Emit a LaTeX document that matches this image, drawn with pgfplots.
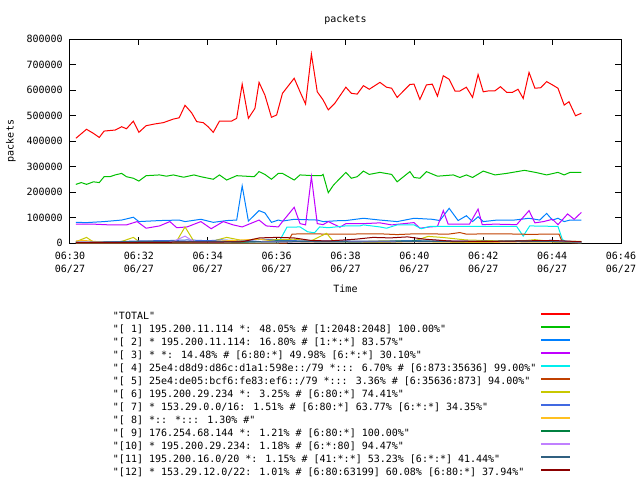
\documentclass[border=0pt]{standalone}
\usepackage{fontspec}
\setmainfont{DejaVu Sans Mono}[Ligatures=TeXOff]
\usepackage{pgfplots}
\pgfplotsset{compat=1.18}
\definecolor{gpred}{HTML}{FF0000}
\definecolor{gpgreen}{HTML}{00C000}
\definecolor{gpblue}{HTML}{0080FF}
\definecolor{gpmagenta}{HTML}{C000FF}
\definecolor{gpcyan}{HTML}{00EEEE}
\definecolor{gpbrown}{HTML}{C04000}
\definecolor{gpolive}{HTML}{C8C800}
\definecolor{gproyal}{HTML}{4169E1}
\definecolor{gpgold}{HTML}{FFC020}
\definecolor{gpdkgreen}{HTML}{008040}
\definecolor{gplav}{HTML}{C080FF}
\definecolor{gpslate}{HTML}{306080}
\definecolor{gpdkred}{HTML}{8B0000}
\begin{document}
\fontsize{7.5}{9.75}\selectfont
\begin{tikzpicture}
\path[use as bounding box] (0,0) rectangle (480pt,360pt);
\begin{axis}[
    at={(52.5pt,177.75pt)}, anchor=south west,
    width=413.25pt, height=153pt, scale only axis,
    xmin=0, xmax=16, ymin=0, ymax=800000,
    xtick={0,2,...,16},
    xticklabels={{06:30\\06/27},{06:32\\06/27},{06:34\\06/27},{06:36\\06/27},{06:38\\06/27},{06:40\\06/27},{06:42\\06/27},{06:44\\06/27},{06:46\\06/27}},
    xticklabel style={align=center, inner sep=0pt, yshift=-6.5pt},
    ytick={0,100000,...,800000},
    scaled y ticks=false,
    yticklabel style={inner sep=0pt, xshift=-5.25pt, /pgf/number format/.cd, fixed, 1000 sep={}},
    /pgf/number format/assume math mode=true,
    tick align=inside, major tick length=4.5pt,
    tick style={black, line width=0.75pt},
    axis line style={line width=0.75pt},
    title={packets},
    title style={at={(axis description cs:0.5,1.054)}, anchor=center},
    xlabel={Time},
    xlabel style={at={(axis description cs:0.5,-0.2255)}, anchor=center},
    ylabel={packets},
    ylabel style={at={(axis description cs:-0.1071,0.5)}, anchor=center},
    every axis plot/.append style={line width=0.75pt, no markers},
    legend cell align=left,
    legend plot pos=right,
    legend image code/.code={\draw[#1, line width=1.4pt] (0pt,2.5pt) -- (21.75pt,2.5pt);},
    legend style={at={(axis description cs:0.078,-0.3382)}, anchor=north west,
        draw=none, fill=none, inner sep=0pt, outer sep=0pt,
        row sep=2.25pt, column sep=3pt,
        nodes={inner sep=0pt, text height=6pt, text depth=1.5pt}},
]
\addplot[gpred] coordinates {
(0.17,410600) (0.48,446000) (0.68,430000) (0.85,414000) (0.99,439000) (1.31,443000) (1.50,456000) (1.64,448000) (1.84,478000) (2.00,434000) (2.21,460000) (2.47,467000) (2.71,472000) (3.00,486000) (3.17,491000) (3.34,540000) (3.53,511000) (3.68,476000) (3.87,472000) (4.01,456000) (4.16,434000) (4.34,478000) (4.69,478000) (4.84,489000) (5.00,623000) (5.18,489000) (5.37,528000) (5.49,630000) (5.66,580000) (5.85,493000) (6.00,502000) (6.17,587000) (6.51,646000) (6.68,593000) (6.84,545000) (7.01,741000) (7.18,593000) (7.35,561000) (7.50,522000) (7.69,548000) (8.01,611000) (8.17,587000) (8.34,584000) (8.52,617000) (8.69,603000) (9.00,630000) (9.19,611000) (9.34,607000) (9.50,571000) (9.87,622000) (9.99,623000) (10.16,563000) (10.35,620000) (10.52,623000) (10.67,576000) (10.84,656000) (11.01,642000) (11.18,596000) (11.32,596000) (11.51,611000) (11.69,571000) (11.85,661000) (12.00,593000) (12.17,597000) (12.34,597000) (12.50,613000) (12.68,591000) (12.85,591000) (13.01,603000) (13.16,567000) (13.33,669000) (13.50,607000) (13.67,609000) (13.84,633000) (14.01,620000) (14.17,607000) (14.35,541000) (14.49,554000) (14.68,499000) (14.85,509000)
};
\addlegendentry{"TOTAL"}
\addplot[gpgreen] coordinates {
(0.17,230000) (0.33,237000) (0.48,230000) (0.68,240000) (0.85,237000) (0.99,260000) (1.16,260000) (1.31,267000) (1.50,273000) (1.64,260000) (1.84,254000) (2.00,243000) (2.21,264000) (2.60,267000) (2.80,262000) (3.00,267000) (3.30,258000) (3.60,267000) (3.80,260000) (4.16,250000) (4.34,267000) (4.55,247000) (4.84,264000) (5.10,262000) (5.35,260000) (5.49,280000) (5.66,269000) (5.85,250000) (6.05,273000) (6.17,273000) (6.51,247000) (6.68,267000) (7.07,264000) (7.30,264000) (7.35,269000) (7.50,197000) (7.65,227000) (8.01,277000) (8.17,254000) (8.34,260000) (8.52,282000) (8.69,269000) (9.00,277000) (9.34,269000) (9.50,240000) (9.87,280000) (9.99,257000) (10.16,254000) (10.35,280000) (10.67,262000) (11.13,267000) (11.32,257000) (11.51,267000) (11.69,257000) (12.00,282000) (12.34,267000) (12.68,273000) (13.20,285000) (13.55,276000) (13.84,267000) (14.17,277000) (14.35,267000) (14.52,277000) (14.85,277000)
};
\addlegendentry{"[ 1] 195.200.11.114 *: 48.05\% \# [1:2048:2048] 100.00\%"}
\addplot[gpblue] coordinates {
(0.17,81000) (0.48,80000) (0.99,84000) (1.50,90000) (1.84,101000) (2.00,84000) (2.60,88000) (3.17,90000) (3.34,84000) (3.80,93000) (4.16,81000) (4.55,88000) (4.84,90000) (5.00,224000) (5.18,86000) (5.49,127000) (5.66,118000) (5.85,81000) (6.05,90000) (6.17,86000) (6.51,93000) (7.18,90000) (7.35,84000) (7.85,88000) (8.01,88000) (8.52,97000) (9.00,90000) (9.50,84000) (9.99,97000) (10.52,93000) (10.74,88000) (11.01,136000) (11.27,88000) (11.51,107000) (11.69,84000) (11.85,103000) (12.00,84000) (12.40,90000) (12.90,90000) (13.33,97000) (13.64,90000) (13.84,116000) (14.01,90000) (14.17,97000) (14.35,84000) (14.52,90000) (14.85,90000)
};
\addlegendentry{"[ 2] * 195.200.11.114: 16.80\% \# [1:*:*] 83.57\%"}
\addplot[gpmagenta] coordinates {
(0.17,74000) (0.68,74000) (1.16,71000) (1.64,71000) (1.95,84000) (2.21,58000) (2.60,67000) (2.90,84000) (3.10,60000) (3.40,63000) (3.80,84000) (4.10,56000) (4.45,84000) (4.74,71000) (5.00,63000) (5.49,90000) (5.70,67000) (6.05,63000) (6.17,84000) (6.51,140000) (6.68,76000) (6.84,71000) (7.01,260000) (7.18,76000) (7.35,72000) (7.50,84000) (7.84,62000) (8.01,76000) (8.52,76000) (9.00,79000) (9.34,71000) (9.99,80000) (10.16,58000) (10.45,63000) (10.67,65000) (10.84,127000) (10.98,74000) (11.60,74000) (11.85,133000) (11.97,72000) (12.34,74000) (12.97,72000) (13.33,127000) (13.50,79000) (13.75,84000) (14.01,93000) (14.17,72000) (14.45,114000) (14.64,93000) (14.85,120000)
};
\addlegendentry{"[ 3] * *: 14.48\% \# [6:80:*] 49.98\% [6:*:*] 30.10\%"}
\addplot[gpcyan] coordinates {
(0.17,0) (6.05,0) (6.30,62000) (6.68,63000) (6.90,44000) (7.10,40000) (7.25,63000) (7.50,60000) (8.00,67000) (8.42,67000) (8.52,71000) (9.00,63000) (9.19,58000) (9.50,71000) (9.99,71000) (10.20,56000) (10.45,65000) (12.97,65000) (13.16,27000) (13.35,67000) (14.17,65000) (14.30,13000) (14.45,4000) (14.85,0)
};
\addlegendentry{"[ 4] 25e4:d8d9:d86c:d1a1:598e::/79 *::: 6.70\% \# [6:873:35636] 99.00\%"}
\addplot[gpbrown] coordinates {
(0.17,0) (6.30,0) (6.45,35000) (6.84,36000) (7.50,35000) (8.00,35000) (9.00,36000) (9.50,33000) (10.00,36000) (11.00,35000) (11.32,41000) (11.50,35000) (12.50,36000) (13.00,35000) (13.30,34000) (14.20,35000) (14.30,2000) (14.85,0)
};
\addlegendentry{"[ 5] 25e4:de05:bcf6:fe83:ef6::/79 *::: 3.36\% \# [6:35636:873] 94.00\%"}
\addplot[gpolive] coordinates {
(0.17,5000) (0.48,22000) (0.68,4000) (1.50,6000) (1.84,22000) (2.00,6000) (2.60,8000) (3.10,8000) (3.34,63000) (3.60,6000) (4.10,6000) (4.55,22000) (5.00,10000) (5.40,15000) (6.00,13000) (6.50,15000) (7.00,8000) (7.45,38000) (7.65,6000) (8.40,6000) (9.00,8000) (10.00,8000) (10.40,26000) (10.80,22000) (11.50,12000) (12.50,8000) (13.00,7000) (13.50,13000) (14.00,6000) (14.85,6000)
};
\addlegendentry{"[ 6] 195.200.29.234 *: 3.25\% \# [6:80:*] 74.41\%"}
\addplot[gproyal] coordinates {
(0.17,3000) (1,4000) (2,8000) (3,10000) (3.4,12000) (4,9000) (4.4,12000) (5,8000) (5.6,15000) (6,10000) (7,8000) (8,8000) (9,7000) (10,10000) (10.5,12000) (11,8000) (12,6000) (13,8000) (14,10000) (14.85,4000)
};
\addlegendentry{"[ 7] * 153.29.0.0/16: 1.51\% \# [6:80:*] 63.77\% [6:*:*] 34.35\%"}
\addplot[gpgold] coordinates {
(0.17,8000) (0.4,10000) (1,3000) (2,2000) (3,4000) (4,5000) (5,12000) (5.5,15000) (6,6000) (7,3000) (8,4000) (9,2000) (10,5000) (11,3000) (12,2000) (13,4000) (14,3000) (14.85,2000)
};
\addlegendentry{"[ 8] *:: *::: 1.30\% \#"}
\addplot[gpdkgreen] coordinates {
(0.17,2000) (1,2000) (2,5000) (3,4000) (4,6000) (5,3000) (6,8000) (7,5000) (8,4000) (9,6000) (10,8000) (11,6000) (12,5000) (13,8000) (14,6000) (14.85,3000)
};
\addlegendentry{"[ 9] 176.254.68.144 *: 1.21\% \# [6:80:*] 100.00\%"}
\addplot[gplav] coordinates {
(0.17,3000) (1,3000) (2,5000) (3,6000) (3.34,27000) (3.6,5000) (4,4000) (5,6000) (6,5000) (7,4000) (8,5000) (9,6000) (10,5000) (11,7000) (12,6000) (13,5000) (14,8000) (14.85,3000)
};
\addlegendentry{"[10] * 195.200.29.234: 1.18\% \# [6:*:80] 94.47\%"}
\addplot[gpslate] coordinates {
(0.17,2000) (1,4000) (2,6000) (3,7000) (4,5000) (5,6000) (6,4000) (7,6000) (8,5000) (9,4000) (10,6000) (11,5000) (12,7000) (13,6000) (14,5000) (14.85,4000)
};
\addlegendentry{"[11] 195.200.16.0/20 *: 1.15\% \# [41:*:*] 53.23\% [6:*:*] 41.44\%"}
\addplot[gpdkred] coordinates {
(0.17,1000) (1,1000) (2,2000) (3,3000) (4,3000) (5,5000) (5.5,20000) (6,22000) (6.5,20000) (7,10000) (7.5,8000) (8.3,15000) (8.8,22000) (9.3,20000) (9.8,24000) (10.3,15000) (11,8000) (12,6000) (13,8000) (14,10000) (14.85,5000)
};
\addlegendentry{"[12] * 153.29.12.0/22: 1.01\% \# [6:80:63199] 60.08\% [6:80:*] 37.94\%"}
\end{axis}
\end{tikzpicture}
\end{document}
